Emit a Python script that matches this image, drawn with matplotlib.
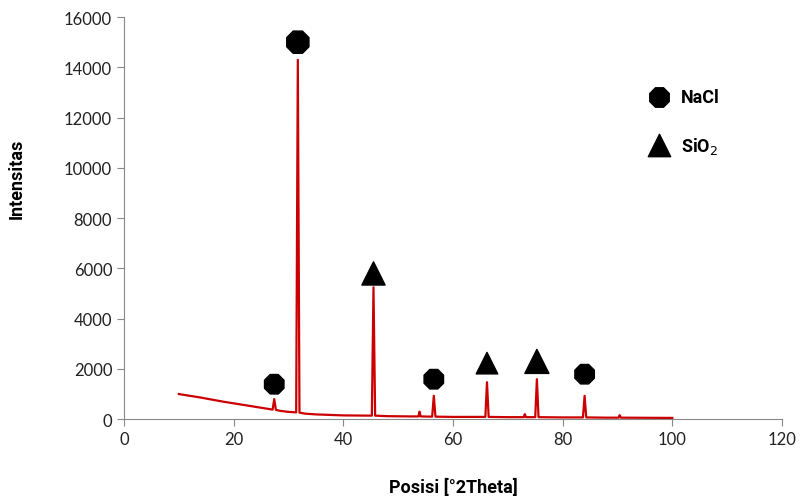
import matplotlib.pyplot as plt

# XRD pattern
theta = [10, 12, 14, 16, 18, 20, 22, 24, 26, 27.1, 27.4, 27.7, 28.5, 30, 31.4, 31.7, 32.0,
         33, 35, 40, 45.2, 45.5, 45.8, 48, 52, 53.7, 53.9, 54.1, 56.2, 56.5, 56.8, 60,
         65.9, 66.2, 66.5, 70, 72.9, 73.1, 73.3, 75.0, 75.3, 75.6, 80, 83.7, 84.0, 84.3,
         88, 90.2, 90.4, 90.6, 95, 100]
intensitas = [1000, 930, 860, 780, 700, 630, 560, 490, 420, 380, 800, 370, 330, 290, 270, 14300, 260,
              220, 190, 150, 140, 5250, 140, 120, 110, 110, 300, 110, 100, 930, 100, 90,
              90, 1470, 90, 80, 80, 200, 80, 80, 1590, 80, 70, 70, 930, 70,
              60, 60, 160, 60, 55, 50]

nacl_x = [27.4, 31.7, 56.5, 84.0]
nacl_y = [1390, 15000, 1590, 1790]
sio2_x = [45.5, 66.2, 75.3]
sio2_y = [5800, 2230, 2300]

fig = plt.figure(figsize=(8, 5.02), dpi=100)
ax = fig.add_axes([0.155, 0.163, 0.8225, 0.801])

ax.plot(theta, intensitas, c='#cc0000', linewidth=1.6)
ax.scatter(nacl_x, nacl_y, marker='8', s=[230, 300, 230, 230], c='black', zorder=3)
ax.scatter(sio2_x, sio2_y, marker='^', s=[280, 240, 300], c='black', zorder=3)

ax.set_xlim(0, 120)
ax.set_ylim(0, 16000)
ax.set_xticks(range(0, 121, 20))
ax.set_yticks(range(0, 16001, 2000))

for s in ['top', 'right']:
    ax.spines[s].set_visible(False)
for s in ['left', 'bottom']:
    ax.spines[s].set_color('#888888')
ax.tick_params(colors='#888888', labelcolor='#222222', labelsize=12, length=5)
for lab in ax.get_xticklabels() + ax.get_yticklabels():
    lab.set_family('Lato')

lbl = dict(fontsize=13, fontweight='bold', family=['Roboto', 'DejaVu Sans'])
ax.set_xlabel('Posisi [°2Theta]', labelpad=22, **lbl)
ax.set_ylabel('Intensitas', **lbl)
ax.yaxis.set_label_coords(-0.15, 0.6)

# legend drawn by hand
ax.scatter([97.5], [12800], marker='8', s=230, c='black', clip_on=False)
ax.scatter([97.5], [10900], marker='^', s=260, c='black', clip_on=False)
ax.text(101.5, 12800, 'NaCl', va='center', **lbl)
ax.text(101.5, 10900, 'SiO$_2$', va='center', **lbl)

fig.savefig('out.png')
